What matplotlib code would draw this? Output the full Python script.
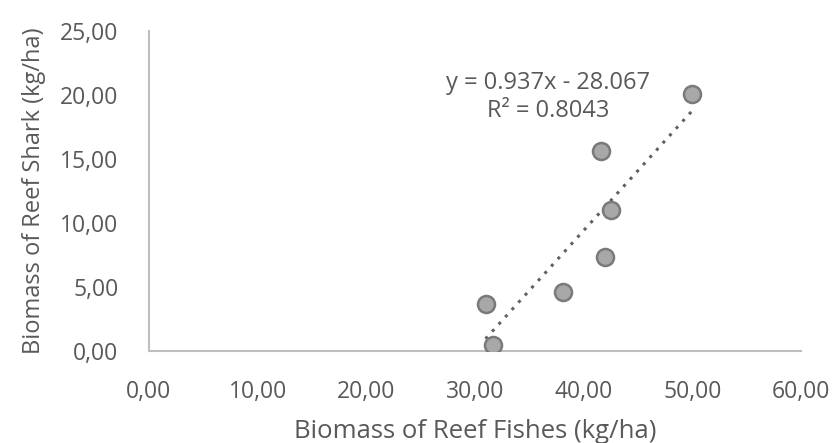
import matplotlib
matplotlib.use("Agg")
import matplotlib.pyplot as plt
import numpy as np

# data
fish = [50.0, 41.55, 42.47, 41.95, 38.06, 30.97, 31.68]
shark = [20.07, 15.6, 10.98, 7.34, 4.57, 3.66, 0.47]
slope, intercept = 0.937, -28.067
r2 = 0.8043

x_ticks = [0, 10, 20, 30, 40, 50, 60]
y_ticks = [0, 5, 10, 15, 20, 25]

plt.rcParams['font.family'] = ['Open Sans', 'DejaVu Sans']
txt = '#595959'

fig = plt.figure(figsize=(8.35, 4.43), dpi=100)
ax = fig.add_axes([0.1784, 0.2077, 0.9593 - 0.1784, 0.930 - 0.2077])

ax.scatter(fish, shark, s=150, facecolor='#a8a8a8', edgecolor='#7a7a7a',
           linewidth=1.8, zorder=3)

# linear trendline
xl = np.array([min(fish), max(fish)])
ax.plot(xl, slope * xl + intercept, linestyle=(0, (1, 2.2)), color='#606060',
        linewidth=2.2, zorder=2)

ax.text(36.7, 20.95, f"y = {slope}x - {abs(intercept)}", color=txt, fontsize=17,
        ha='center', va='center')
ax.text(36.7, 18.75, f"R² = {r2}", color=txt, fontsize=17, ha='center', va='center')

ax.set_xlim(0, 60)
ax.set_ylim(0, 25)
ax.set_xticks(x_ticks)
ax.set_yticks(y_ticks)
ax.set_xticklabels([f"{v:.2f}".replace('.', ',') for v in x_ticks])
ax.set_yticklabels([f"{v:.2f}".replace('.', ',') for v in y_ticks])
ax.tick_params(length=0, labelsize=16.5, colors=txt, pad=21)
ax.tick_params(axis='y', pad=22)

for s in ['top', 'right']:
    ax.spines[s].set_visible(False)
for s in ['left', 'bottom']:
    ax.spines[s].set_color('#bfbfbf')
    ax.spines[s].set_linewidth(1.5)

ax.set_xlabel("Biomass of Reef Fishes (kg/ha)", fontsize=18.5, color=txt, labelpad=11)
ax.set_ylabel("Biomass of Reef Shark (kg/ha)", fontsize=17, color=txt, labelpad=10)

fig.savefig("out.png", dpi=100)
